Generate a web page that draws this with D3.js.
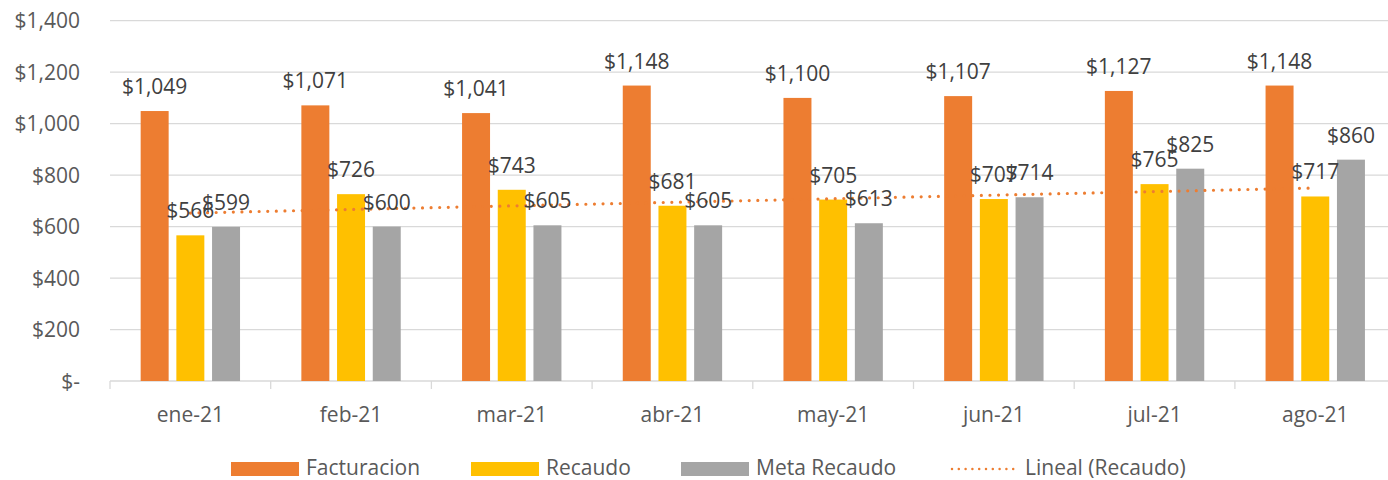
<!DOCTYPE html>
<html>
<head>
<meta charset="utf-8">
<script src="https://cdn.jsdelivr.net/npm/d3@7"></script>
<style>
  body { margin: 0; background: #fff; }
  text { font-family: "Open Sans", sans-serif; fill: #595959; }
</style>
</head>
<body>
<div id="chart"></div>
<script>
// datos
const MESES = ["ene-21", "feb-21", "mar-21", "abr-21", "may-21", "jun-21", "jul-21", "ago-21"];
const SERIES = ["Facturacion", "Recaudo", "Meta Recaudo"];
const facturacion = [1049, 1071, 1041, 1148, 1100, 1107, 1127, 1148];
const recaudo = [566, 726, 743, 681, 705, 707, 765, 717];
const metaRecaudo = [599, 600, 605, 605, 613, 714, 825, 860];
const yTicks = [0, 200, 400, 600, 800, 1000, 1200, 1400];

const COLORS = { "Facturacion": "#ED7D31", "Recaudo": "#FFC000", "Meta Recaudo": "#A5A5A5" };
const TREND_COLOR = "#ED7D31";

const width = 1388, height = 480;
const plot = { left: 110, right: 1395.6, top: 20.7, bottom: 381 };

const svg = d3.select("#chart").append("svg")
    .attr("width", width)
    .attr("height", height);

const x = d3.scaleBand()
    .domain(MESES)
    .range([plot.left, plot.right])
    .padding(0);

const xs = d3.scaleBand()
    .domain(SERIES)
    .range([0, x.bandwidth()])
    .paddingInner(0.216)
    .paddingOuter(0.859);

const y = d3.scaleLinear()
    .domain([0, 1400])
    .range([plot.bottom, plot.top]);

// grid
svg.append("g")
    .selectAll("line")
    .data(yTicks.filter(t => t > 0))
    .join("line")
    .attr("x1", plot.left)
    .attr("x2", plot.right)
    .attr("y1", d => y(d))
    .attr("y2", d => y(d))
    .attr("stroke", "#D9D9D9")
    .attr("stroke-width", 1.3);

// y labels
const fmtAxis = d => d === 0 ? "$-" : d3.format("$,")(d);
svg.append("g")
    .selectAll("text")
    .data(yTicks)
    .join("text")
    .attr("x", 80)
    .attr("y", d => y(d))
    .attr("dy", "0.36em")
    .attr("text-anchor", "end")
    .attr("font-size", 21)
    .text(fmtAxis);

// eje x
svg.append("line")
    .attr("x1", plot.left).attr("x2", plot.right)
    .attr("y1", plot.bottom).attr("y2", plot.bottom)
    .attr("stroke", "#D9D9D9").attr("stroke-width", 1.3);

const bounds = MESES.map(m => x(m)).concat([plot.right]);
svg.append("g")
    .selectAll("line")
    .data(bounds)
    .join("line")
    .attr("x1", d => d).attr("x2", d => d)
    .attr("y1", plot.bottom).attr("y2", plot.bottom + 8)
    .attr("stroke", "#D9D9D9").attr("stroke-width", 1.3);

svg.append("g")
    .selectAll("text")
    .data(MESES)
    .join("text")
    .attr("x", d => x(d) + x.bandwidth() / 2)
    .attr("y", 422)
    .attr("text-anchor", "middle")
    .attr("font-size", 21)
    .text(d => d);

// barras
const valores = { "Facturacion": facturacion, "Recaudo": recaudo, "Meta Recaudo": metaRecaudo };
const barData = [];
SERIES.forEach(s => {
    MESES.forEach((m, i) => barData.push({ serie: s, mes: m, value: valores[s][i] }));
});

svg.append("g")
    .selectAll("rect")
    .data(barData)
    .join("rect")
    .attr("x", d => x(d.mes) + xs(d.serie))
    .attr("y", d => y(d.value))
    .attr("width", xs.bandwidth())
    .attr("height", d => y(0) - y(d.value))
    .attr("fill", d => COLORS[d.serie]);

// linea de tendencia (regresion lineal sobre Recaudo)
const n = recaudo.length;
const xsIdx = d3.range(1, n + 1);
const mx = d3.mean(xsIdx), my = d3.mean(recaudo);
const slope = d3.sum(xsIdx, (v, i) => (v - mx) * (recaudo[i] - my)) / d3.sum(xsIdx, v => (v - mx) ** 2);
const intercept = my - slope * mx;
const trend = MESES.map((m, i) => ({ mes: m, value: intercept + slope * (i + 1) }));

const line = d3.line()
    .x(d => x(d.mes) + x.bandwidth() / 2)
    .y(d => y(d.value));

svg.append("path")
    .datum(trend)
    .attr("d", line)
    .attr("fill", "none")
    .attr("stroke", TREND_COLOR)
    .attr("stroke-width", 3.2)
    .attr("stroke-linecap", "round")
    .attr("stroke-dasharray", "0 8.6");

// etiquetas de datos
svg.append("g")
    .selectAll("text")
    .data(barData)
    .join("text")
    .attr("x", d => x(d.mes) + xs(d.serie) + xs.bandwidth() / 2)
    .attr("y", d => y(d.value) - 17)
    .attr("text-anchor", "middle")
    .attr("font-size", 21)
    .style("fill", "#404040")
    .text(d => d3.format("$,")(d.value));

// leyenda
const legend = [
    { name: "Facturacion", x: 231, type: "rect" },
    { name: "Recaudo", x: 471, type: "rect" },
    { name: "Meta Recaudo", x: 681, type: "rect" },
    { name: "Lineal (Recaudo)", x: 950, type: "line" }
];
const lg = svg.append("g");
legend.forEach(l => {
    if (l.type === "rect") {
        lg.append("rect")
            .attr("x", l.x).attr("y", 462)
            .attr("width", 68).attr("height", 14)
            .attr("fill", COLORS[l.name]);
    } else {
        lg.append("line")
            .attr("x1", l.x + 2).attr("x2", l.x + 64)
            .attr("y1", 469).attr("y2", 469)
            .attr("stroke", TREND_COLOR)
            .attr("stroke-width", 2.5)
            .attr("stroke-linecap", "round")
            .attr("stroke-dasharray", "0 6.8");
    }
    lg.append("text")
        .attr("x", l.x + 75)
        .attr("y", 467)
        .attr("dy", "0.36em")
        .attr("font-size", 21)
        .text(l.name);
});
</script>
</body>
</html>
